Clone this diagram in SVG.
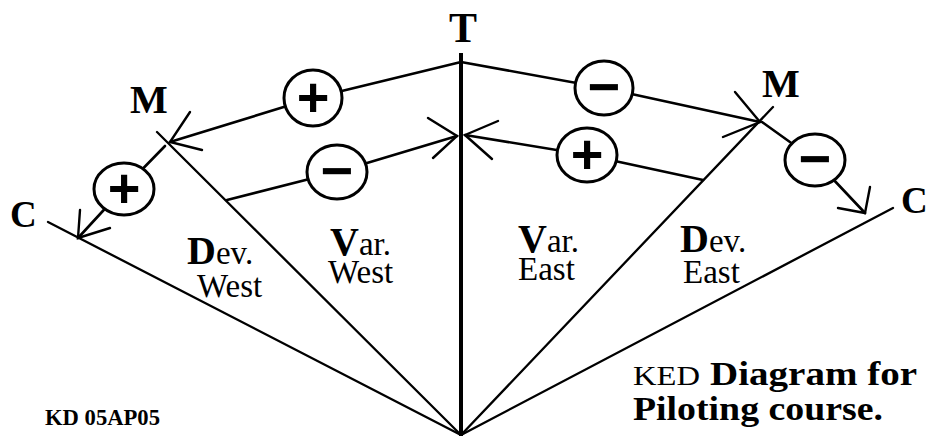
<svg xmlns="http://www.w3.org/2000/svg" width="927" height="436" viewBox="0 0 927 436">
  <style>
    .ray { fill: none; stroke: #000; stroke-width: 2.3; stroke-linecap: round; }
    .true { fill: none; stroke: #000; stroke-width: 4; }
    .link { fill: none; stroke: #000; stroke-width: 2.6; stroke-linecap: round; stroke-linejoin: round; }
    .head { fill: none; stroke: #000; stroke-width: 2.4; stroke-linecap: round; stroke-linejoin: miter; }
    .sign ellipse { fill: #fff; stroke: #000; stroke-width: 3; }
    .sign text { font-family: "Liberation Sans", Arial, sans-serif; font-weight: bold; font-size: 56px; text-anchor: middle; fill: #000; }
    .big { font-family: "Liberation Serif", "Times New Roman", serif; font-weight: bold; fill: #000; }
    .lbl { font-family: "Liberation Serif", "Times New Roman", serif; font-size: 33px; fill: #000; }
    .cap { font-weight: bold; font-size: 40px; }
    .note { font-family: "Liberation Serif", "Times New Roman", serif; fill: #000; }
  </style>

  <rect width="927" height="436" fill="#fff"/>

  <!-- heading rays fanning out from the common origin -->
  <g id="rays">
    <line class="true" x1="461" y1="53" x2="461" y2="436"/>
    <line class="ray" x1="48" y1="222" x2="461" y2="435"/>
    <line class="ray" x1="157" y1="132" x2="461" y2="435"/>
    <line class="ray" x1="773" y1="107" x2="461" y2="435"/>
    <line class="ray" x1="893" y1="208" x2="461" y2="435"/>
  </g>

  <!-- correction arrows between headings -->
  <g id="connectors">
    <!-- T to M (west) -->
    <polyline class="link" points="461,62 313,98 170,142"/>
    <polyline class="head" points="190,112 170,142 202,150"/>
    <!-- D-line to T (west) -->
    <polyline class="link" points="227,200 337,172 457,136"/>
    <polyline class="head" points="428,118 457,136 433,158"/>
    <!-- M to C (west) -->
    <polyline class="link" points="165,146 124,188 78,238"/>
    <polyline class="head" points="80,210 78,238 110,228"/>
    <!-- T to M (east) -->
    <polyline class="link" points="461,62 604,88 760,122"/>
    <polyline class="head" points="735,92 760,122 723,137"/>
    <!-- D-line to T (east) -->
    <polyline class="link" points="703,180 587,155 465,135"/>
    <polyline class="head" points="498,121 465,135 492,159"/>
    <!-- M to C (east) -->
    <polyline class="link" points="762,122 815,160 865,213"/>
    <polyline class="head" points="870,187 865,213 838,208"/>
  </g>

  <!-- sign bubbles -->
  <g id="sign-tm-west" class="sign">
    <ellipse cx="313" cy="98" rx="29" ry="28"/>
    <text x="313" y="116">+</text>
  </g>
  <g id="sign-dt-west" class="sign">
    <ellipse cx="337" cy="172" rx="30" ry="27"/>
    <text x="337" y="190">−</text>
  </g>
  <g id="sign-mc-west" class="sign">
    <ellipse cx="124" cy="189" rx="30" ry="26"/>
    <text x="124" y="207">+</text>
  </g>
  <g id="sign-tm-east" class="sign">
    <ellipse cx="604" cy="88" rx="29" ry="27"/>
    <text x="604" y="106">−</text>
  </g>
  <g id="sign-dt-east" class="sign">
    <ellipse cx="587" cy="155" rx="30" ry="27"/>
    <text x="587" y="173">+</text>
  </g>
  <g id="sign-mc-east" class="sign">
    <ellipse cx="815" cy="160" rx="30" ry="26"/>
    <text x="815" y="178">−</text>
  </g>

  <!-- heading letters -->
  <g id="node-T"><text class="big" x="463" y="42" font-size="42" text-anchor="middle">T</text></g>
  <g id="node-M-west"><text class="big" x="130" y="113" font-size="40">M</text></g>
  <g id="node-M-east"><text class="big" x="762" y="97" font-size="40">M</text></g>
  <g id="node-C-west"><text class="big" x="10" y="227" font-size="37">C</text></g>
  <g id="node-C-east"><text class="big" x="901" y="213" font-size="37">C</text></g>

  <!-- sector labels -->
  <g id="label-dev-west">
    <text class="lbl" x="187" y="264"><tspan class="cap">D</tspan>ev.</text>
    <text class="lbl" x="197" y="297">West</text>
  </g>
  <g id="label-var-west">
    <text class="lbl" x="330" y="255"><tspan class="cap">V</tspan>ar.</text>
    <text class="lbl" x="328" y="283">West</text>
  </g>
  <g id="label-var-east">
    <text class="lbl" x="518" y="252"><tspan class="cap">V</tspan>ar.</text>
    <text class="lbl" x="518" y="280">East</text>
  </g>
  <g id="label-dev-east">
    <text class="lbl" x="680" y="252"><tspan class="cap">D</tspan>ev.</text>
    <text class="lbl" x="683" y="283">East</text>
  </g>

  <!-- title and date stamp -->
  <g id="title">
    <text class="note" x="633" y="385" font-size="27" textLength="67" lengthAdjust="spacingAndGlyphs">KED</text>
    <text class="note" x="710" y="385" font-size="33" font-weight="bold" textLength="207" lengthAdjust="spacingAndGlyphs">Diagram for</text>
    <text class="note" x="633" y="420" font-size="33" font-weight="bold" textLength="250" lengthAdjust="spacingAndGlyphs">Piloting course.</text>
  </g>
  <g id="stamp">
    <text class="note" x="45" y="425" font-size="24" font-weight="bold" textLength="115" lengthAdjust="spacingAndGlyphs">KD 05AP05</text>
  </g>
</svg>
